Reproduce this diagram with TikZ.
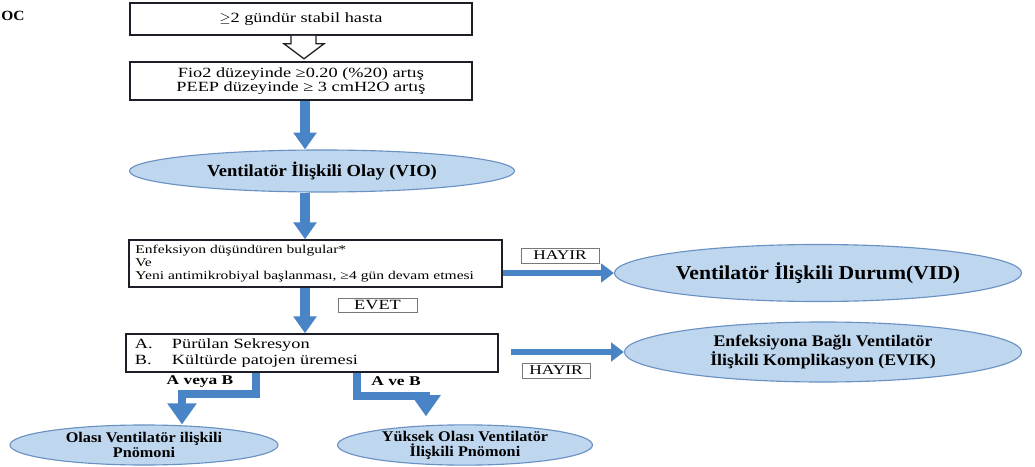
\documentclass[tikz,border=0pt]{standalone}
\usepackage{fontspec}
\setmainfont{Liberation Serif}
\newfontfamily\boxfont{Liberation Serif}[FakeStretch=1.3]
\newfontfamily\ellfont{Liberation Serif}[FakeStretch=1.1]
\usetikzlibrary{shapes.geometric,arrows.meta}
\definecolor{ellfill}{RGB}{190,214,238}
\definecolor{elldraw}{RGB}{105,145,195}
\definecolor{arrowblue}{RGB}{72,132,198}
\definecolor{boxline}{RGB}{30,30,40}
\definecolor{tagline}{RGB}{120,120,120}

\begin{document}
\begin{tikzpicture}[x=0.025cm,y=-0.025cm,
        stepbox/.style={draw=boxline,line width=1.1pt,inner sep=0pt,align=center,font=\boxfont\fontsize{10}{9.5}\selectfont},
        oval/.style={ellipse,draw=elldraw,line width=0.8pt,fill=ellfill,inner sep=0pt,align=center},
        tag/.style={draw=tagline,line width=0.6pt,inner sep=0pt,minimum height=0.375cm,font=\boxfont\fontsize{9.5}{10}\selectfont},
        mainarrow/.style={draw=arrowblue,line width=7pt,-{Triangle[width=16pt,length=12pt]}},
        sidearrow/.style={draw=arrowblue,line width=4.3pt,-{Triangle[width=13pt,length=9pt]}},
        bendarrow/.style={draw=arrowblue,line width=5pt,line join=miter,-{Triangle[width=20pt,length=15pt]}}]
        \useasboundingbox (0,0) rectangle (1035,467);

        \node[anchor=west,inner sep=0pt,font=\ellfont\bfseries\fontsize{10}{10}\selectfont] (corner) at (1,16) {OC};

        \node[stepbox,minimum width=8.55cm,minimum height=0.8cm] (stable) at (301,19) {$\geq$2 gündür stabil hasta};
        \node[stepbox,minimum width=8.55cm,minimum height=0.95cm] (fio) at (301,81) {Fio2 düzeyinde ≥0.20 (\%20) artış\\PEEP düzeyinde ≥ 3 cmH2O artış};
        \node[oval,minimum width=9.625cm,minimum height=1.05cm,font=\ellfont\bfseries\fontsize{12}{13}\selectfont] (vio) at (322,171) {Ventilatör İlişkili Olay (VIO)};
        \node[stepbox,minimum width=9.325cm,minimum height=1.175cm,text width=9.0cm,align=left,font=\boxfont\fontsize{8.5}{9.3}\selectfont] (bulgu) at (315.5,263.5) {Enfeksiyon düşündüren bulgular*\\Ve\\Yeni antimikrobiyal başlanması, ≥4 gün devam etmesi};
        \node[oval,minimum width=10.175cm,minimum height=1.425cm,font=\ellfont\bfseries\fontsize{14}{15}\selectfont] (vid) at (818,273) {Ventilatör İlişkili Durum(VID)};
        \node[stepbox,minimum width=9.3cm,minimum height=0.95cm,text width=8.85cm,align=left,font=\boxfont\fontsize{10}{11}\selectfont] (kultur) at (312,353) {\makebox[0.925cm][l]{A.}Pürülan Sekresyon\\\makebox[0.925cm][l]{B.}Kültürde patojen üremesi};
        \node[oval,minimum width=9.925cm,minimum height=1.5cm,font=\ellfont\bfseries\fontsize{11.5}{12}\selectfont] (evik) at (823,352) {Enfeksiyona Bağlı Ventilatör\\İlişkili Komplikasyon (EVIK)};
        \node[oval,minimum width=6.7cm,minimum height=1.0cm,font=\ellfont\bfseries\fontsize{10.5}{10.8}\selectfont] (olasi) at (144,445) {Olası Ventilatör ilişkili\\Pnömoni};
        \node[oval,minimum width=6.375cm,minimum height=1.0cm,font=\ellfont\bfseries\fontsize{10.5}{10.8}\selectfont] (yuksek) at (465,445) {Yüksek Olası Ventilatör\\İlişkili Pnömoni};

        \node[tag,minimum width=1.95cm] (hayirA) at (560,255.5) {HAYIR};
        \node[tag,minimum width=1.975cm,minimum height=0.35cm,font=\boxfont\fontsize{10}{10}\selectfont] (evet) at (377.5,305) {EVET};
        \node[tag,minimum width=1.7cm] (hayirB) at (556,370.5) {HAYIR};
        \node[font=\boxfont\bfseries\fontsize{9.5}{10}\selectfont] (aveyab) at (200,382) {A veya B};
        \node[font=\boxfont\bfseries\fontsize{9.5}{10}\selectfont] (aveb) at (396,381) {A ve B};

        \coordinate (axis) at (305,0);
        \coordinate (orL) at (256,394);
        \coordinate (orLb) at (182,394);
        \coordinate (andR) at (357,396);
        \coordinate (andRb) at (426,396);

        \filldraw[fill=white,draw=boxline,line width=0.9pt] (stable.south) ++(-10,0) -- ++(0,8) -- ++(-7,0) -- ++(20,15) -- ++(20,-15) -- ++(-8,0) -- ++(0,-8);

        \draw[mainarrow] (fio.south -| axis) -- (vio.north -| axis);
        \draw[mainarrow] (vio.south -| axis) -- (bulgu.north -| axis);
        \draw[mainarrow] (bulgu.south -| axis) -- (kultur.north -| axis);
        \draw[sidearrow] (bulgu.east |- vid.west) -- (vid.west);
        \draw[sidearrow] ([xshift=0.3cm]kultur.east |- evik.west) -- (evik.west);
        \draw[bendarrow] (kultur.south -| orL) -- (orL) -- (orLb) -- (orLb |- olasi.north);
        \draw[bendarrow,shorten >=0.2cm] (kultur.south -| andR) -- (andR) -- (andRb) -- (andRb |- yuksek.north);

    \end{tikzpicture}
\end{document}
